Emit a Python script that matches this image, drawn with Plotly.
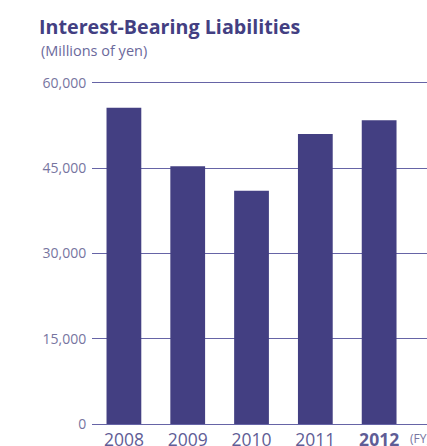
import plotly.graph_objects as go

# Fiscal years and interest-bearing liabilities (millions of yen)
years = ["2008", "2009", "2010", "2011", "2012"]
liabilities = [55600, 45300, 41000, 51000, 53400]
year_labels = ["2008", "2009", "2010", "2011", "<b>2012</b>"]
y_ticks = [0, 15000, 30000, 45000, 60000]
y_tick_labels = ["0", "15,000", "30,000", "45,000", "60,000"]

BAR = "#433f82"
GRID = "#6664a6"
TEXT = "#5f5d96"
FONT = "Open Sans"

fig = go.Figure(
    go.Bar(
        x=list(range(len(years))),
        y=liabilities,
        marker=dict(color=BAR, line=dict(width=0)),
        width=0.545,
        hoverinfo="skip",
    )
)

fig.update_layout(
    width=427,
    height=446,
    margin=dict(l=92, r=0, t=81, b=22, autoexpand=False),
    paper_bgcolor="white",
    plot_bgcolor="white",
    showlegend=False,
    font=dict(family=FONT, color=TEXT),
    title=dict(
        text="<b>Interest-Bearing Liabilities</b>",
        x=39 / 427,
        xanchor="left",
        xref="container",
        y=1 - 27 / 446,
        yanchor="middle",
        yref="container",
        font=dict(family=FONT, size=19.7, color=BAR),
    ),
    xaxis=dict(
        range=[-0.5, 4.75],
        tickmode="array",
        tickvals=list(range(len(years))),
        ticktext=year_labels,
        tickfont=dict(size=17.5, color=TEXT),
        showgrid=False,
        zeroline=False,
        showline=True,
        linecolor=GRID,
        linewidth=1,
        ticks="",
        automargin=False,
        fixedrange=True,
    ),
    yaxis=dict(
        range=[0, 60300],
        tickmode="array",
        tickvals=y_ticks,
        ticktext=y_tick_labels,
        tickfont=dict(size=14, color="#77759f"),
        showgrid=True,
        gridcolor=GRID,
        gridwidth=1,
        zeroline=False,
        showline=False,
        ticks="outside",
        ticklen=2,
        tickcolor="rgba(0,0,0,0)",
        automargin=False,
        fixedrange=True,
    ),
    annotations=[
        dict(
            text="(Millions of yen)",
            xref="paper", yref="paper",
            x=(39 - 92) / 335, y=(423.7 - 50) / 343,
            xanchor="left", yanchor="middle",
            showarrow=False,
            font=dict(family=FONT, size=14.5, color="#6b699c"),
        ),
        dict(
            text="(FY)",
            xref="paper", yref="paper",
            x=(408 - 92) / 335, y=(423.7 - 438) / 343,
            xanchor="left", yanchor="middle",
            showarrow=False,
            font=dict(family=FONT, size=12, color="#77759f"),
        ),
    ],
)

fig.write_html("out.html", config={"displayModeBar": False})
